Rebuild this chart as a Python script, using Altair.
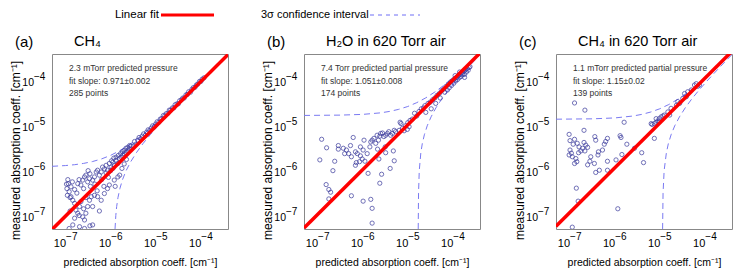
import altair as alt
import pandas as pd

# ---------------- shared axis values ----------------
AXIS_DOMAIN = [5e-8, 4e-4]
TICK_VALUES = [1e-7, 1e-6, 1e-5, 1e-4]
TICK_BASE = ["10", "10", "10", "10"]
TICK_EXPONENTS = ["−7", "−6", "−5", "−4"]

letters = ["(a)", "(b)", "(c)"]
names = ["CH₄", "H₂O in 620 Torr air", "CH₄ in 620 Torr air"]
notes_pressure = ["2.3 mTorr predicted pressure",
                  "7.4 Torr predicted partial pressure",
                  "1.1 mTorr predicted partial pressure"]
notes_slope = ["fit slope: 0.971±0.002", "fit slope: 1.051±0.008", "fit slope: 1.15±0.02"]
notes_count = ["285 points", "174 points", "139 points"]
fit_slopes = [0.971, 1.051, 1.15]
legend_labels = ["Linear fit", "3σ confidence interval"]
x_title = "predicted absorption coeff. [cm⁻¹]"
y_title = "measured absorption coeff. [cm⁻¹]"

# ---------------- measured points, (log10 predicted, log10 measured) ----------------
a_points_log = [
    (-6.95, -6.20), (-6.94, -6.29), (-6.97, -6.40), (-6.92, -6.47), (-6.88, -6.36), (-6.80, -6.42),
    (-6.73, -6.29), (-6.66, -6.32), (-6.62, -6.21), (-6.58, -6.14), (-6.55, -6.10), (-6.51, -6.25),
    (-6.47, -6.18), (-6.46, -6.07), (-6.40, -6.21), (-6.36, -6.14), (-6.32, -6.03), (-6.29, -5.99),
    (-6.25, -6.10), (-6.21, -6.03), (-6.18, -5.92), (-6.14, -5.96), (-6.10, -5.88), (-6.07, -5.99),
    (-6.03, -5.84), (-5.99, -5.92), (-5.95, -5.81), (-5.92, -5.88), (-5.88, -5.77), (-5.84, -5.84),
    (-5.81, -5.73), (-5.77, -5.70), (-5.73, -5.66), (-5.70, -5.62), (-5.66, -5.59), (-5.62, -5.55),
    (-5.59, -5.51),
    (-6.88, -6.58), (-6.84, -6.66), (-6.80, -6.73), (-6.77, -6.88), (-6.73, -6.95), (-6.80, -7.06),
    (-6.84, -7.21), (-6.92, -7.29), (-6.69, -6.80), (-6.66, -6.69), (-6.62, -7.03), (-6.58, -7.10),
    (-6.55, -6.95), (-6.51, -6.80), (-6.47, -6.66), (-6.43, -6.58), (-6.40, -7.21), (-6.36, -6.55),
    (-6.29, -6.58), (-6.21, -6.66), (-6.14, -6.51), (-6.07, -6.40), (-6.03, -6.32), (-5.92, -6.21),
    (-5.84, -6.14), (-6.69, -7.25), (-6.58, -7.29), (-6.46, -7.23),
    (-6.98, -6.30), (-6.96, -6.55), (-6.90, -6.60), (-6.85, -6.25), (-6.75, -6.50), (-6.70, -6.20),
    (-6.60, -6.40), (-6.50, -6.00), (-6.45, -6.35), (-6.35, -6.30), (-6.30, -6.45), (-6.20, -6.20),
    (-6.15, -6.35), (-6.10, -6.05), (-6.05, -6.15), (-6.00, -6.00), (-5.95, -5.95), (-6.55, -6.60),
    (-6.40, -6.80), (-6.25, -6.90), (-6.60, -6.85), (-6.70, -7.00), (-6.90, -6.90),
    (-5.90, -6.35), (-5.80, -6.10), (-5.75, -5.95), (-5.70, -5.85), (-5.65, -5.75),
    (-5.98, -5.78), (-5.93, -5.72), (-5.88, -5.70), (-5.83, -5.66), (-5.78, -5.62), (-5.74, -5.58),
    (-5.70, -5.55), (-5.66, -5.50), (-5.62, -5.48), (-5.58, -5.44),
    (-5.55, -5.45), (-5.50, -5.45), (-5.47, -5.35), (-5.44, -5.41), (-5.40, -5.32), (-5.37, -5.26),
    (-5.33, -5.29), (-5.30, -5.23), (-5.27, -5.18), (-5.23, -5.21), (-5.20, -5.14), (-5.17, -5.09),
    (-5.13, -5.10), (-5.10, -5.05), (-5.07, -5.00), (-5.03, -5.01), (-5.00, -4.96), (-4.97, -4.91),
    (-4.93, -4.92), (-4.90, -4.85), (-4.87, -4.84), (-4.83, -4.77), (-4.80, -4.78), (-4.77, -4.73),
    (-4.73, -4.72), (-4.70, -4.65), (-4.67, -4.65), (-4.63, -4.60), (-4.60, -4.60), (-4.57, -4.53),
    (-4.53, -4.51), (-4.50, -4.51), (-4.47, -4.44), (-4.43, -4.42), (-4.40, -4.38), (-4.37, -4.38),
    (-4.33, -4.31), (-4.30, -4.30), (-4.27, -4.24), (-4.23, -4.25), (-4.20, -4.19), (-4.17, -4.15),
    (-4.13, -4.14), (-4.10, -4.09), (-4.07, -4.07), (-4.03, -4.01), (-4.00, -4.01), (-3.97, -3.96),
    (-3.93, -3.93),
]

b_points_log = [
    (-6.91, -5.30), (-6.80, -5.49), (-6.95, -5.76), (-6.62, -5.79), (-6.66, -6.00), (-6.81, -6.31),
    (-6.75, -6.42), (-6.71, -6.48), (-6.75, -6.63), (-6.54, -5.44), (-6.54, -5.52), (-6.43, -5.50),
    (-6.36, -5.54), (-6.40, -5.62), (-6.27, -5.44), (-6.31, -5.62), (-6.21, -5.26), (-6.25, -5.69),
    (-6.16, -5.58), (-6.14, -5.82), (-6.12, -5.62), (-6.05, -5.67), (-6.07, -5.80), (-5.97, -5.32),
    (-5.99, -5.54), (-5.95, -5.79), (-5.90, -5.62), (-5.88, -6.06), (-5.84, -5.47), (-5.82, -5.36),
    (-5.79, -5.32), (-5.75, -5.28), (-5.71, -5.39), (-5.68, -5.21), (-5.65, -5.32), (-5.62, -5.23),
    (-5.60, -5.17), (-5.56, -5.16), (-5.53, -5.24), (-5.49, -5.21), (-5.45, -5.17), (-5.42, -5.13),
    (-5.38, -5.21), (-5.34, -5.17), (-5.30, -5.10), (-5.27, -5.13), (-5.19, -5.10), (-5.12, -5.06),
    (-5.08, -5.11), (-5.01, -5.08), (-4.97, -5.02), (-5.17, -4.92), (-6.16, -5.88), (-6.25, -6.56),
    (-5.99, -6.68), (-5.82, -6.64), (-5.79, -6.84), (-5.79, -7.17), (-5.62, -6.28), (-5.58, -6.08),
    (-5.49, -5.60), (-5.39, -5.95), (-5.30, -5.78), (-5.32, -5.56), (-5.64, -5.74), (-5.67, -5.52),
    (-5.50, -5.47), (-6.01, -5.74), (-6.05, -5.47),
    (-5.15, -4.95), (-5.05, -5.00), (-5.00, -4.93), (-4.95, -4.88), (-4.90, -4.85), (-4.85, -4.72),
    (-4.80, -4.78), (-4.75, -4.68), (-4.70, -4.62), (-4.65, -4.60), (-4.62, -4.55), (-4.60, -4.70),
    (-4.55, -4.50), (-4.50, -4.47), (-4.48, -4.62), (-4.45, -4.42), (-4.40, -4.38), (-4.38, -4.50),
    (-4.35, -4.32), (-4.30, -4.28), (-4.28, -4.38), (-4.25, -4.22), (-4.20, -4.18), (-4.18, -4.25),
    (-4.15, -4.12), (-4.12, -4.20), (-4.10, -4.07), (-4.08, -4.15), (-4.05, -4.02), (-4.03, -4.10),
    (-4.00, -3.98), (-3.98, -4.05), (-3.96, -3.95), (-3.94, -4.00), (-3.92, -3.92), (-3.90, -3.97),
    (-3.88, -3.88), (-3.86, -3.93), (-3.84, -3.85), (-3.82, -3.90), (-3.80, -3.82), (-3.78, -3.86),
    (-3.76, -3.78), (-3.74, -3.85), (-3.72, -3.75), (-3.70, -3.80), (-3.68, -3.72), (-3.66, -3.76),
    (-3.64, -3.70), (-3.62, -3.68), (-3.74, -3.92), (-3.85, -3.80), (-3.95, -3.88),
]

c_points_log = [
    (-6.89, -4.49), (-6.66, -4.65), (-7.01, -5.19), (-6.99, -5.33), (-6.89, -5.30), (-6.92, -5.41),
    (-6.83, -5.39), (-6.79, -5.47), (-6.75, -5.56), (-6.68, -5.37), (-6.64, -5.43), (-6.60, -5.48),
    (-6.71, -5.50), (-6.66, -5.56), (-6.99, -5.54), (-6.96, -5.61), (-6.94, -5.69), (-6.86, -5.73),
    (-6.84, -5.80), (-6.89, -5.84), (-7.01, -5.65), (-6.80, -5.60), (-6.68, -5.10), (-6.55, -5.79),
    (-6.45, -5.84), (-6.44, -5.24), (-6.42, -5.32), (-6.36, -5.58), (-6.37, -5.65), (-6.34, -5.99),
    (-6.42, -6.04), (-6.16, -5.79), (-6.20, -5.35), (-6.16, -5.28), (-6.23, -5.41), (-6.27, -5.54),
    (-6.16, -5.99), (-5.88, -5.22), (-5.86, -5.26), (-5.97, -5.76), (-5.84, -5.64), (-5.79, -4.92),
    (-5.73, -5.41), (-5.56, -5.50), (-5.40, -5.60), (-5.36, -5.82), (-5.17, -4.97), (-5.12, -4.95),
    (-5.08, -4.92), (-5.04, -4.89), (-5.01, -4.84), (-4.97, -4.80), (-4.93, -4.78), (-4.90, -4.76),
    (-6.85, -6.39), (-6.81, -6.68), (-5.93, -6.85), (-6.94, -7.26), (-6.60, -5.87), (-6.53, -5.69),
    (-5.19, -4.95), (-5.08, -4.84), (-5.01, -4.91), (-4.82, -4.69), (-4.75, -4.61), (-4.78, -4.76),
    (-4.63, -4.54), (-4.60, -4.46), (-4.45, -4.28), (-4.41, -4.35), (-4.38, -4.24), (-4.30, -4.20),
    (-4.23, -4.09), (-4.19, -4.06), (-4.49, -4.39), (-4.56, -4.50), (-5.12, -5.28), (-4.16, -4.12),
    (-4.12, -4.09),
]

# ---------------- 3-sigma confidence curves, (log10 predicted, log10 measured) ----------------
a_upper_log = [(-7.3, -5.903), (-7.0, -5.886), (-6.8, -5.867), (-6.6, -5.838), (-6.4, -5.796),
               (-6.2, -5.737), (-6.0, -5.658), (-5.8, -5.555), (-5.6, -5.430), (-5.4, -5.286),
               (-5.2, -5.124), (-5.0, -4.951), (-4.8, -4.768), (-4.5, -4.484), (-4.0, -3.995),
               (-3.4, -3.399)]
a_lower_log = [(-5.903, -7.3), (-5.886, -7.0), (-5.867, -6.8), (-5.838, -6.6), (-5.796, -6.4),
               (-5.737, -6.2), (-5.658, -6.0), (-5.555, -5.8), (-5.430, -5.6), (-5.286, -5.4),
               (-5.124, -5.2), (-4.951, -5.0), (-4.768, -4.8), (-4.484, -4.5), (-3.995, -4.0),
               (-3.399, -3.4)]
b_upper_log = [(-7.3, -4.768), (-6.5, -4.761), (-6.0, -4.745), (-5.6, -4.710), (-5.4, -4.678),
               (-5.2, -4.632), (-5.0, -4.569), (-4.8, -4.483), (-4.6, -4.376), (-4.4, -4.246),
               (-4.2, -4.096), (-4.0, -3.932), (-3.7, -3.665), (-3.4, -3.382)]
b_lower_log = [(-4.768, -7.3), (-4.761, -6.5), (-4.745, -6.0), (-4.710, -5.6), (-4.678, -5.4),
               (-4.632, -5.2), (-4.569, -5.0), (-4.483, -4.8), (-4.376, -4.6), (-4.246, -4.4),
               (-4.096, -4.2), (-3.932, -4.0), (-3.665, -3.7), (-3.382, -3.4)]
c_upper_log = [(-7.3, -4.852), (-6.5, -4.844), (-6.0, -4.824), (-5.6, -4.782), (-5.4, -4.745),
               (-5.2, -4.692), (-5.0, -4.620), (-4.8, -4.525), (-4.6, -4.408), (-4.4, -4.269),
               (-4.2, -4.113), (-4.0, -3.943), (-3.7, -3.671), (-3.4, -3.385)]
c_lower_log = [(-4.937, -7.3), (-4.927, -6.5), (-4.903, -6.0), (-4.853, -5.6), (-4.810, -5.4),
               (-4.749, -5.2), (-4.668, -5.0), (-4.563, -4.8), (-4.436, -4.6), (-4.290, -4.4),
               (-4.127, -4.2), (-3.953, -4.0), (-3.676, -3.7), (-3.387, -3.4)]

FONT = "Liberation Sans, Arial"
W, H = 176, 175


def make_panel(k, pts, upper, lower):
    scale = alt.Scale(type="log", domain=AXIS_DOMAIN, nice=False)
    x_axis = alt.Axis(labels=False, ticks=False, grid=False, domain=False, title=x_title,
                      titleFont=FONT, titleFontSize=10.5, titleFontWeight="normal",
                      titleColor="black", titlePadding=28)
    y_axis = alt.Axis(labels=False, ticks=False, grid=False, domain=False, title=y_title,
                      titleFont=FONT, titleFontSize=12, titleFontWeight="normal",
                      titleColor="black", titlePadding=30, titleLimit=300, titleY=96)
    x = alt.X("pred:Q", scale=scale, axis=x_axis)
    y = alt.Y("meas:Q", scale=scale, axis=y_axis)
    xs = alt.X("pred:Q", scale=scale)
    ys = alt.Y("meas:Q", scale=scale)

    pts_df = pd.DataFrame({"pred": [10 ** p for p, _ in pts], "meas": [10 ** m for _, m in pts]})
    rows = []
    for branch, curve in (("upper", upper), ("lower", lower)):
        for i, (p, m) in enumerate(curve):
            rows.append({"branch": branch, "i": i, "pred": 10 ** p, "meas": 10 ** m})
    curve_df = pd.DataFrame(rows)
    fit_df = pd.DataFrame({"pred": AXIS_DOMAIN, "meas": [v * fit_slopes[k] for v in AXIS_DOMAIN]})
    tick_df = pd.DataFrame({"pred": TICK_VALUES, "meas": TICK_VALUES,
                            "base": TICK_BASE, "exp": TICK_EXPONENTS})

    curves = alt.Chart(curve_df).mark_line(
        color="#7a7af2", strokeWidth=1, strokeDash=[6, 4], clip=True
    ).encode(x=x, y=y, detail="branch:N", order="i:Q")
    points = alt.Chart(pts_df).mark_point(
        shape="circle", filled=False, size=18, strokeWidth=0.9, color="#3a3a9c", opacity=0.8, clip=True
    ).encode(x=xs, y=ys)
    fit = alt.Chart(fit_df).mark_line(color="#ff0000", strokeWidth=3.5, clip=True).encode(x=xs, y=ys)

    # tick labels  10^n drawn as base + raised exponent
    tick_layers = [
        alt.Chart(tick_df).mark_text(align="right", baseline="alphabetic", font=FONT,
                                     fontSize=11, color="black", dx=0.5)
        .encode(x=xs, y=alt.value(H + 18), text="base:N"),
        alt.Chart(tick_df).mark_text(align="left", baseline="alphabetic", font=FONT,
                                     fontSize=10, color="black", dx=0.5)
        .encode(x=xs, y=alt.value(H + 11), text="exp:N"),
        alt.Chart(tick_df).mark_text(align="right", baseline="middle", font=FONT,
                                     fontSize=10.5, color="black", dy=2)
        .encode(x=alt.value(-18), y=ys, text="base:N"),
        alt.Chart(tick_df).mark_text(align="left", baseline="middle", font=FONT,
                                     fontSize=10, color="black", dy=-3.5)
        .encode(x=alt.value(-18), y=ys, text="exp:N"),
    ]

    layers = [curves, points, fit] + tick_layers
    for j, note in enumerate([notes_pressure[k], notes_slope[k], notes_count[k]]):
        layers.append(
            alt.Chart(pd.DataFrame({"t": [note]})).mark_text(
                align="left", baseline="middle", font=FONT, fontSize=8.5, color="#333333"
            ).encode(x=alt.value(17), y=alt.value(14 + 12.5 * j), text="t:N")
        )
    layers.append(
        alt.Chart(pd.DataFrame({"t": [letters[k]]})).mark_text(
            align="left", baseline="alphabetic", font=FONT, fontSize=15, color="black"
        ).encode(x=alt.value(-37), y=alt.value(-7), text="t:N")
    )
    layers.append(
        alt.Chart(pd.DataFrame({"t": [names[k]]})).mark_text(
            align="left", baseline="alphabetic", font=FONT, fontSize=14.5, color="black"
        ).encode(x=alt.value(22), y=alt.value(-8), text="t:N")
    )
    return alt.layer(*layers).properties(
        width=W, height=H, view=alt.ViewBackground(stroke="#888888", strokeWidth=1)
    )


one = pd.DataFrame({"t": [""]})
legend = alt.layer(
    alt.Chart(pd.DataFrame({"t": [legend_labels[0]]})).mark_text(
        align="right", baseline="middle", font=FONT, fontSize=11.5, color="black"
    ).encode(x=alt.value(107), y=alt.value(7), text="t:N"),
    alt.Chart(one).mark_rule(color="#ff0000", strokeWidth=3).encode(
        x=alt.value(109), x2=alt.value(162), y=alt.value(7)),
    alt.Chart(pd.DataFrame({"t": [legend_labels[1]]})).mark_text(
        align="left", baseline="middle", font=FONT, fontSize=11, color="black"
    ).encode(x=alt.value(209), y=alt.value(7), text="t:N"),
    alt.Chart(one).mark_rule(color="#6f6ff5", strokeWidth=1, strokeDash=[4, 4]).encode(
        x=alt.value(318), x2=alt.value(368), y=alt.value(7)),
).properties(width=660, height=12, view=alt.ViewBackground(strokeOpacity=0))

panels = alt.hconcat(
    make_panel(0, a_points_log, a_upper_log, a_lower_log),
    make_panel(1, b_points_log, b_upper_log, b_lower_log),
    make_panel(2, c_points_log, c_upper_log, c_lower_log),
    spacing=31,
)

chart = alt.vconcat(legend, panels, spacing=12).properties(padding=0)

chart.save("out.html", embed_options={"renderer": "svg", "actions": False})
